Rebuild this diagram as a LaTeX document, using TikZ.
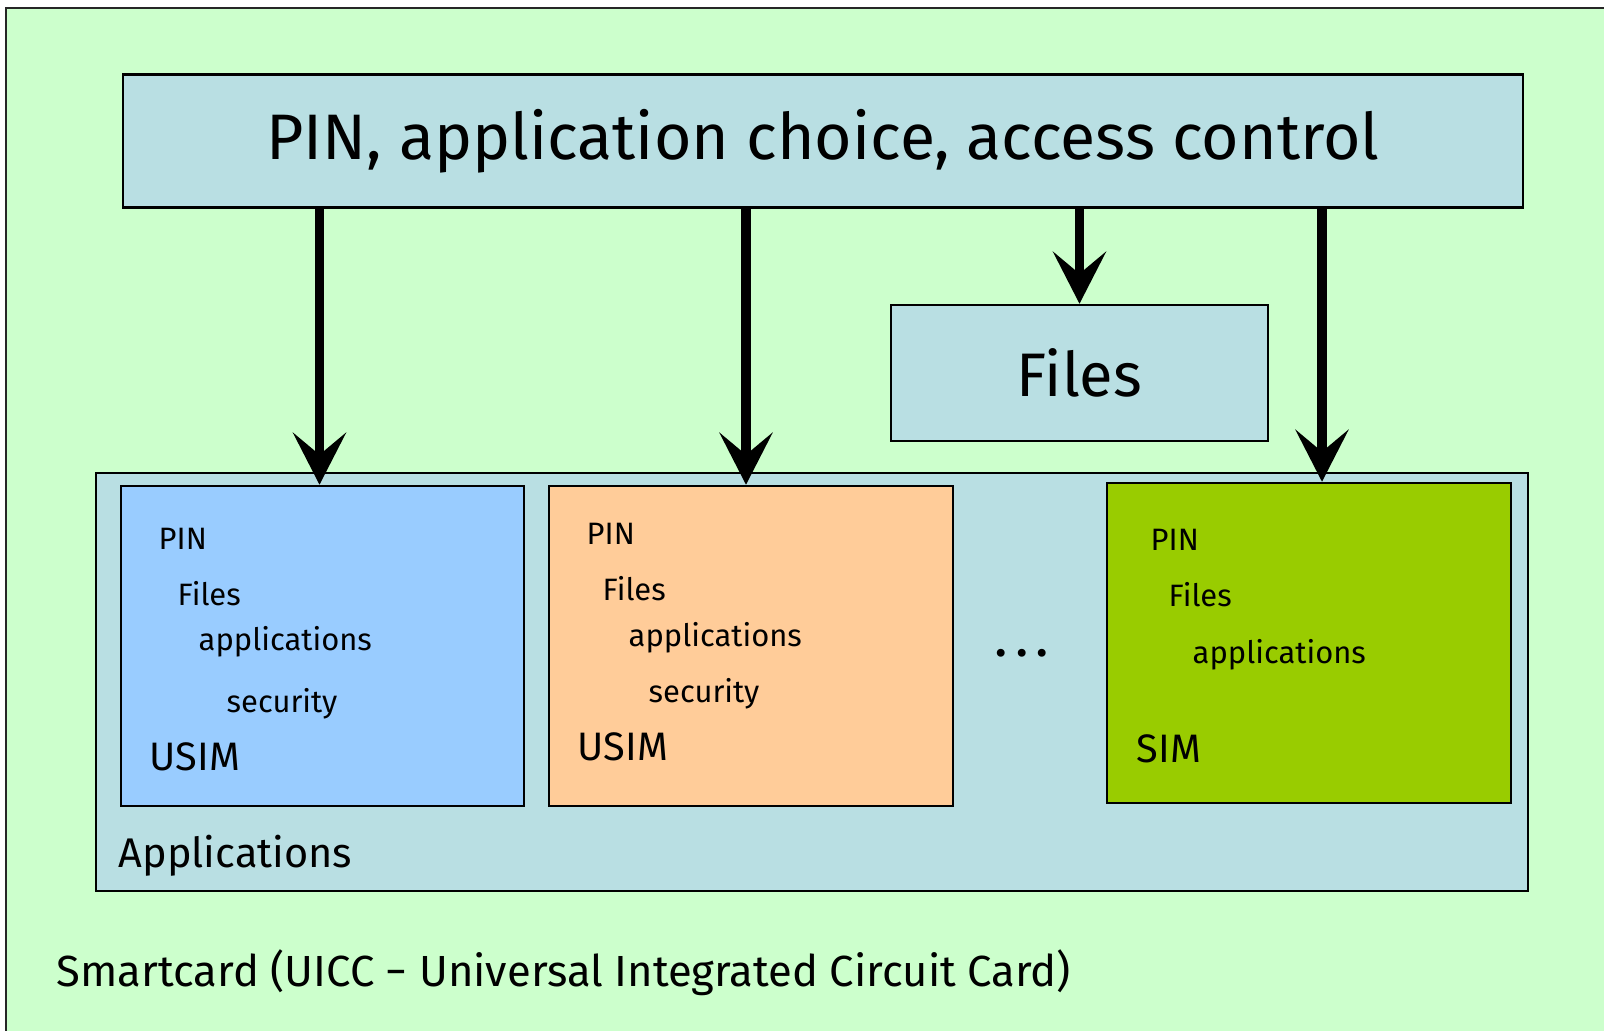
\documentclass[tikz,border=0pt]{standalone}
\usepackage{fontspec}
\setmainfont{Fira Sans}
\usetikzlibrary{arrows.meta}

\definecolor{cardgreen}{HTML}{CCFFCC}
\definecolor{ctrlblue}{HTML}{B9DFE3}
\definecolor{usimblue}{HTML}{99CCFF}
\definecolor{usimorange}{HTML}{FFCC99}
\definecolor{simgreen}{HTML}{99CC00}

\begin{document}
\begin{tikzpicture}[x=1cm,y=-1cm,
  box/.style={draw=black,line width=0.7pt,inner sep=0pt},
  arr/.style={line width=2.6pt,-{Stealth[length=5.2mm,width=5.3mm,inset=2.2mm]}},
  lbl/.style={anchor=base west,inner sep=0pt,font=\fontsize{8.8}{11}\selectfont},
  big/.style={anchor=base west,inner sep=0pt,font=\fontsize{11.3}{13}\selectfont}]
\useasboundingbox (0,0) rectangle (16.04,10.31);
\clip (0,0) rectangle (16.04,10.31);
\fill[white] (0,0) rectangle (16.04,10.31);

% card
\draw[fill=cardgreen,line width=0.8pt,draw=black!85] (0.06,0.08) rectangle (16.6,10.9);

\node[box,fill=ctrlblue,minimum width=14cm,minimum height=1.33cm,font=\fontsize{18.3}{22}\selectfont] (ctrl) at (8.23,1.41) {PIN, application choice, access control};
\node[box,fill=ctrlblue,minimum width=3.77cm,minimum height=1.36cm,font=\fontsize{17.5}{20}\selectfont] (files) at (10.795,3.73) {Files};
\node[box,fill=ctrlblue,minimum width=14.32cm,minimum height=4.18cm] (apps) at (8.12,6.82) {};

\node[box,fill=usimblue,minimum width=4.03cm,minimum height=3.2cm] (usimA) at (3.225,6.46) {};
\node[box,fill=usimorange,minimum width=4.04cm,minimum height=3.2cm] (usimB) at (7.51,6.46) {};
\node[box,fill=simgreen,minimum width=4.04cm,minimum height=3.2cm] (sim) at (13.09,6.43) {};

% first USIM
\node[lbl] (pinA) at (1.58,5.50) {PIN};
\node[lbl] (filesA) at (1.77,6.06) {Files};
\node[lbl] (appA) at (1.98,6.51) {applications};
\node[lbl] (secA) at (2.26,7.13) {security};
\node[big] (nameA) at (1.49,7.71) {USIM};

% second USIM
\node[lbl] (pinB) at (5.86,5.45) {PIN};
\node[lbl] (filesB) at (6.02,6.01) {Files};
\node[lbl] (appB) at (6.28,6.47) {applications};
\node[lbl] (secB) at (6.48,7.03) {security};
\node[big] (nameB) at (5.77,7.61) {USIM};

% SIM
\node[lbl] (pinC) at (11.50,5.51) {PIN};
\node[lbl] (filesC) at (11.68,6.07) {Files};
\node[lbl] (appC) at (11.92,6.64) {applications};
\node[big] (nameC) at (11.36,7.63) {SIM};

\node[anchor=base,inner sep=0pt,font=\fontsize{16}{18}\selectfont] (dots) at (10.22,6.565) {.\kern2pt.\kern2pt.};

\node[anchor=base west,inner sep=0pt,font=\fontsize{11.8}{14}\selectfont] (appsname) at (1.18,8.68) {Applications};
\node[anchor=base west,inner sep=0pt,font=\fontsize{12.4}{15}\selectfont] (cardname) at (0.56,9.87) {Smartcard (UICC − Universal Integrated Circuit Card)};

\draw[arr] ([xshift=-0.3mm]ctrl.south -| usimA.north) -- ([xshift=-0.3mm]usimA.north);
\draw[arr] ([xshift=-0.5mm]ctrl.south -| usimB.north) -- ([xshift=-0.5mm]usimB.north);
\draw[arr] (ctrl.south -| files.north) -- (files.north);
\draw[arr] ([xshift=1.3mm]ctrl.south -| sim.north) -- ([xshift=1.3mm]sim.north);
\end{tikzpicture}
\end{document}
